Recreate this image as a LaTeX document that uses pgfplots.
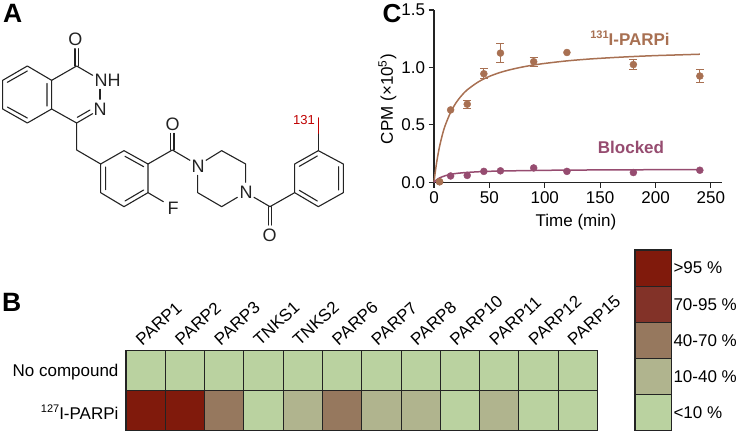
\documentclass[border=0pt]{standalone}
\usepackage{pgfplots}
\pgfplotsset{compat=1.18}
\usepackage{fontspec}
\setmainfont{Liberation Sans}
\definecolor{cbrown}{RGB}{168,112,82}
\definecolor{cmag}{RGB}{150,76,112}
\definecolor{hA}{RGB}{186,210,160}
\definecolor{hB}{RGB}{176,180,142}
\definecolor{hC}{RGB}{150,120,94}
\definecolor{hD}{RGB}{130,50,40}
\definecolor{hE}{RGB}{128,26,12}
\definecolor{bondc}{RGB}{35,35,35}
\newcommand{\fs}{\fontsize{17}{18}\selectfont}
\newcommand{\sfs}[1]{\raisebox{0.42em}{\fontsize{11}{12}\selectfont #1}}
\begin{document}
\begin{tikzpicture}[x=1pt,y=1pt]
\path[use as bounding box] (0,0) rectangle (740,434);
% panel letters
\node[anchor=base west,inner sep=0,font=\fontsize{26.5}{27}\selectfont\bfseries] at (3,411) {A};
\node[anchor=base west,inner sep=0,font=\fontsize{26.5}{27}\selectfont\bfseries] at (2,122) {B};
\node[anchor=base west,inner sep=0,font=\fontsize{26}{27}\selectfont\bfseries] at (382.5,411) {C};
% structure (zoom coordinates)
\begin{scope}[shift={(0,434)},x=0.33333pt,y=-0.33333pt,line width=1.1pt,draw=bondc,line cap=round,line join=round]
\draw (155,241)--(82,198)--(8,241)--(8,327)--(82,369)--(155,327)--cycle;
\draw (22,247)--(82,213) (22,321)--(82,354) (141,250)--(141,318);
\draw (155,241)--(230,198)--(278,226);
\draw (155,327)--(230,369)--(278,341) (232,352)--(270,330);
\draw (300,268)--(300,298);
\draw (225,198)--(225,146) (235,198)--(235,146);
\draw (230,369)--(230,450)--(302,492);
\draw (302,492)--(372,452)--(444,492)--(444,578)--(372,620)--(302,578)--cycle;
\draw (317,501)--(317,569) (375,469)--(431,500) (375,603)--(431,570);
\draw (444,492)--(517,450)--(570,481);
\draw (512,450)--(512,400) (522,450)--(522,400);
\draw (444,578)--(490,605);
\draw (618,481)--(665,452)--(737,492)--(737,547);
\draw (712,592)--(665,620)--(593,578)--(593,526);
\draw (762,592)--(810,620)--(884,578)--(884,492)--(955,452)--(1030,492)--(1030,578)--(955,620)--(884,578);
\draw (805,620)--(805,675) (815,620)--(815,675);
\draw (898,499)--(952,468) (1016,500)--(1016,570) (898,571)--(952,603);
\draw (955,452)--(955,400);
\draw[red!75!black,line width=1.5pt] (955,400)--(955,354);
\end{scope}
\begin{scope}[every node/.style={inner sep=0,font=\fontsize{18}{20}\selectfont,text=bondc}]
\node at (75.5,395) {O};
\node[anchor=west] at (94.5,353.5) {NH};
\node at (100,325) {N};
\node at (172.5,310) {O};
\node at (198,268) {N};
\node at (246,242) {N};
\node at (173,226) {F};
\node at (269.5,198.5) {O};
\node[font=\fontsize{13}{14}\selectfont,text=red!75!black] at (304,314) {131};
\end{scope}
% panel C
\begin{axis}[at={(434pt,251.7pt)},anchor=south west,scale only axis,width=288pt,height=172.3pt,
  xmin=0,xmax=260,ymin=0,ymax=1.5,axis lines=left,axis line style={-,line width=1.1pt,color=bondc},
  xtick={0,50,100,150,200,250},ytick={0,0.5,1,1.5},
  yticklabels={0.0,0.5,1.0,1.5},
  tick style={line width=1.1pt,color=bondc},major tick length=5.5pt,tick align=outside,
  /pgf/number format/assume math mode=true,
  ticklabel style={font=\fs},
  xlabel={Time (min)},ylabel={CPM (×10\textsuperscript{5})},
  label style={font=\fs},
  xlabel style={yshift=-4pt,xshift=-2pt},
  ylabel style={xshift=-3pt,yshift=-2pt},
  clip=false]
\addplot[cbrown,line width=1.5pt,smooth] coordinates {(0,0)(1,.0787)(2,.1475)(3,.208)(4,.262)(5,.311)(7.5,.412)(10,.492)(15,.610)(20,.694)(25,.756)(30,.805)(40,.874)(50,.922)(60,.957)(70,.983)(80,1.004)(90,1.021)(100,1.035)(120,1.057)(140,1.073)(160,1.085)(180,1.095)(200,1.103)(220,1.109)(240,1.115)};
\addplot[cmag,line width=1.5pt,smooth] coordinates {(0,0)(2,.019)(5,.038)(10,.057)(15,.069)(20,.077)(30,.086)(45,.094)(60,.098)(90,.103)(120,.106)(180,.109)(240,.110)};
\addplot[only marks,mark=*,mark size=3.5pt,color=cbrown,mark options={fill=cbrown,draw=cbrown},
  error bars/.cd,y dir=both,y explicit,error bar style={line width=1.1pt,color=cbrown},error mark options={rotate=90,line width=1.1pt,color=cbrown,mark size=4pt}]
 coordinates {(5,.005) (15,.63) (30,.68)+-(0,.035) (45,.945)+-(0,.045) (60,1.125)+-(0,.085) (90,1.05)+-(0,.04) (120,1.13) (180,1.025)+-(0,.045) (240,.925)+-(0,.057)};
\addplot[only marks,mark=*,mark size=3.5pt,color=cmag,mark options={fill=cmag,draw=cmag}]
 coordinates {(15,.055)(30,.06)(45,.095)(60,.10)(90,.125)(120,.095)(180,.085)(240,.105)};
\addplot[only marks,mark=*,mark size=3.5pt,color=cbrown,mark options={fill=cbrown,draw=cbrown}] coordinates {(5,.005)};
\end{axis}
\node[font=\fontsize{17}{18}\selectfont\bfseries,text=cbrown,inner sep=0] at (630,396) {\sfs{131}I-PARPi};
\node[font=\fontsize{17}{18}\selectfont\bfseries,text=cmag,inner sep=0] at (631,287) {Blocked};
% panel B heat map
\begin{axis}[at={(126pt,3.7pt)},anchor=south west,scale only axis,width=471.3pt,height=79.6pt,
  xmin=-0.5,xmax=11.5,ymin=-0.5,ymax=1.5,y dir=normal,
  colormap={hm}{rgb255=(186,210,160) rgb255=(176,180,142) rgb255=(150,120,94) rgb255=(130,50,40) rgb255=(128,26,12)},
  colormap access=piecewise constant,point meta min=-0.5,point meta max=4.5,
  xtick={0,...,11},
  xticklabels={PARP1,PARP2,PARP3,TNKS1,TNKS2,PARP6,PARP7,PARP8,PARP10,PARP11,PARP12,PARP15},
  xticklabel pos=upper,
  xticklabel style={rotate=42,anchor=south west,font=\fs,xshift=-3pt,yshift=2pt},
  ytick={0,1},yticklabels={\sfs{127}I-PARPi,No compound},
  yticklabel style={font=\fs,xshift=-4pt,yshift=-2pt},
  major tick length=0pt,minor tick length=0pt,
  minor xtick={0.5,1.5,2.5,3.5,4.5,5.5,6.5,7.5,8.5,9.5,10.5},minor ytick={0.5},
  grid=minor,minor grid style={color=bondc,line width=0.8pt},
  axis on top,
  axis line style={line width=1.5pt,color=bondc}]
\addplot[matrix plot*,mesh/cols=12,point meta=explicit] table[x=x,y=y,meta=c] {
x y c
0 0 4
1 0 4
2 0 2
3 0 0
4 0 1
5 0 2
6 0 1
7 0 1
8 0 0
9 0 1
10 0 0
11 0 0
0 1 0
1 1 0
2 1 0
3 1 0
4 1 0
5 1 0
6 1 0
7 1 0
8 1 0
9 1 0
10 1 0
11 1 0
};
\end{axis}
% legend scale
\begin{axis}[at={(635pt,3.3pt)},anchor=south west,scale only axis,width=36pt,height=180.7pt,
  xmin=-0.5,xmax=0.5,ymin=0,ymax=5,ybar stacked,bar width=36pt,bar shift=0pt,
  xtick=\empty,ytick={0.5,1.5,2.5,3.5,4.5},
  yticklabels={<10 \%,10-40 \%,40-70 \%,70-95 \%,>95 \%},
  ytick pos=right,yticklabel pos=right,
  yticklabel style={font=\fs,anchor=west,xshift=-1pt},
  major tick length=0pt,
  axis line style={line width=1.1pt,color=bondc}]
\addplot[fill=hA,draw=bondc,line width=0.8pt] coordinates {(0,1)};
\addplot[fill=hB,draw=bondc,line width=0.8pt] coordinates {(0,1)};
\addplot[fill=hC,draw=bondc,line width=0.8pt] coordinates {(0,1)};
\addplot[fill=hD,draw=bondc,line width=0.8pt] coordinates {(0,1)};
\addplot[fill=hE,draw=bondc,line width=0.8pt] coordinates {(0,1)};
\end{axis}
\end{tikzpicture}
\end{document}
